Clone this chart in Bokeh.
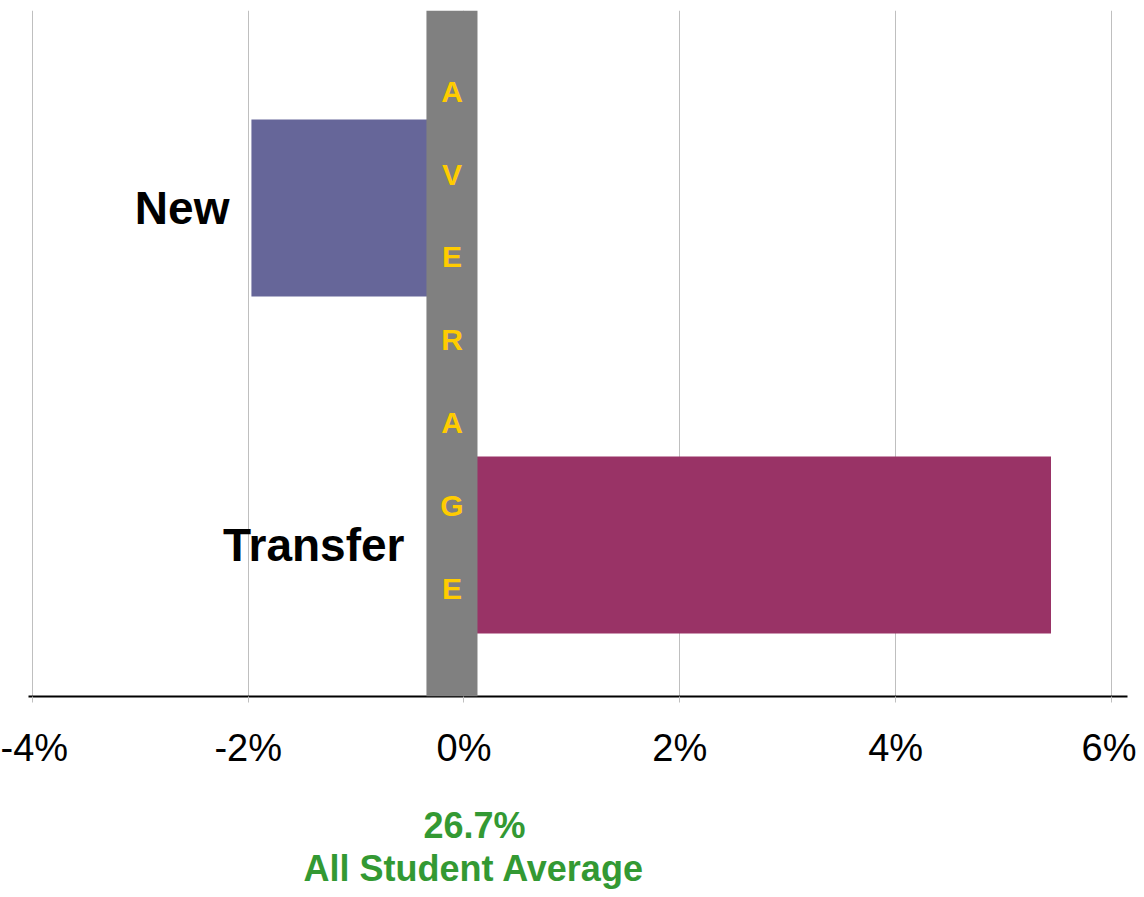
from bokeh.plotting import figure
from bokeh.models import BoxAnnotation, FixedTicker, Title, ColumnDataSource, Range1d
from bokeh.core.properties import value
from bokeh.embed import file_html
from bokeh.resources import INLINE

# ---- data ----
categories = ["New", "Transfer"]
diff_values = [-1.97, 5.44]          # difference from all-student average, in %
bar_colors = ["#666699", "#993366"]
x_ticks = [-4, -2, 0, 2, 4, 6]
x_tick_labels = ["-4%", "-2%", "0%", "2%", "4%", "6%"]
average_value = "26.7%"
average_label = "All Student Average"
band_letters = "AVERAGE"

# ---- layout constants ----
X_START, X_END = -4.036, 6.149
Y_START, Y_END = -0.4496, 1.586
BAND_LEFT, BAND_RIGHT = -0.348, 0.125
FONT = "Liberation Sans"

n = len(categories)
ypos = [n - 1 - i for i in range(n)]
src = ColumnDataSource(dict(y=ypos, value=diff_values, color=bar_colors, cat=categories,
                            lx=[min(v, BAND_LEFT) for v in diff_values]))

p = figure(width=1136, height=889, x_range=Range1d(X_START, X_END), y_range=Range1d(Y_START, Y_END),
           output_backend="svg", toolbar_location=None, y_axis_location=None,
           min_border_left=28, min_border_right=9, min_border_top=10, min_border_bottom=193)
p.outline_line_color = None
p.ygrid.visible = False
p.xgrid.grid_line_color = "#BFBFBF"
p.xgrid.grid_line_width = 1

p.hbar(y="y", left=0, right="value", height=0.525, color="color", line_color=None, source=src)

band = BoxAnnotation(left=BAND_LEFT, right=BAND_RIGHT, fill_color="#808080", fill_alpha=1.0,
                     line_color=None, level="annotation")
p.add_layout(band)

y_mid = Y_END - 0.48 * (Y_END - Y_START)
p.text(x=[(BAND_LEFT + BAND_RIGHT) / 2], y=[y_mid], text=["\n".join(band_letters)],
       text_font=value(FONT), text_font_style="bold", text_font_size="30px", text_color="#FFCC00",
       text_align="center", text_baseline="middle", text_line_height=2.51, level="overlay")

p.text(x="lx", y="y", text="cat", source=src, x_offset=-22,
       text_font=value(FONT), text_font_style="bold", text_font_size="46px", text_color="black",
       text_align="right", text_baseline="middle")

ax = p.xaxis[0]
ax.ticker = FixedTicker(ticks=x_ticks)
ax.major_label_overrides = {t: l for t, l in zip(x_ticks, x_tick_labels)}
ax.axis_line_color = "black"
ax.axis_line_width = 2
ax.major_tick_line_color = "#BFBFBF"
ax.major_tick_in = 0
ax.major_tick_out = 6
ax.minor_tick_line_color = None
ax.major_label_text_font = FONT
ax.major_label_text_font_size = "38px"
ax.major_label_text_color = "black"
ax.major_label_standoff = 24
# blank axis label used only as vertical spacing above the average captions
ax.axis_label = " "
ax.axis_label_text_font_size = "10px"
ax.axis_label_standoff = 17

t1 = Title(text=average_value, align="left", offset=395, standoff=0,
           text_font=FONT, text_font_size="36px", text_font_style="bold", text_color="#339933")
t2 = Title(text=average_label, align="left", offset=275, standoff=0,
           text_font=FONT, text_font_size="36px", text_font_style="bold", text_color="#339933")
p.add_layout(t1, "below")
p.add_layout(t2, "below")

open("out.html", "w").write(file_html(p, INLINE))
